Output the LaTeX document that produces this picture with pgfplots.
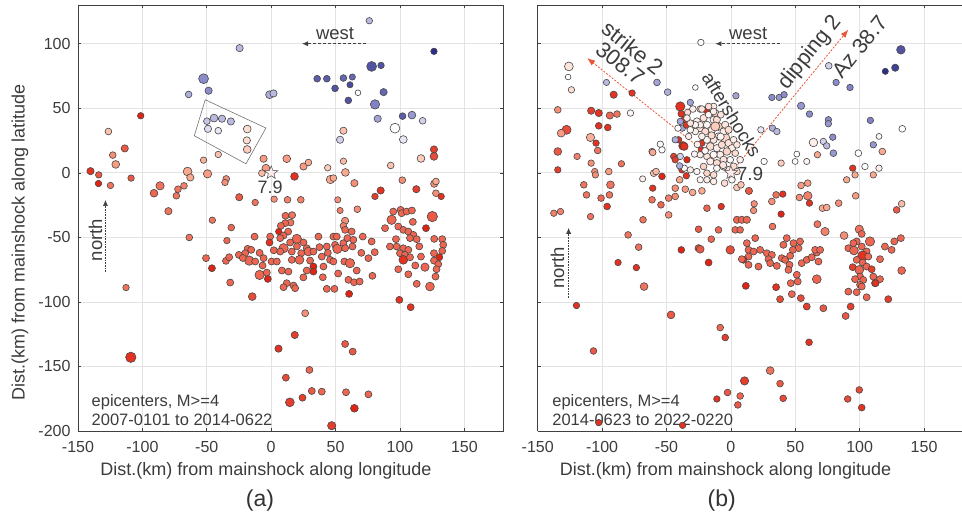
\documentclass[border=0pt]{standalone}
\usepackage{pgfplots}
\pgfplotsset{compat=1.18}
\usepackage{pgfplotstable}
\usepackage{fontspec}
\setmainfont{Liberation Sans}
\usetikzlibrary{arrows.meta}
\definecolor{txt}{RGB}{60,60,60}
\definecolor{arr}{RGB}{235,85,55}

\pgfdeclareplotmark{fivestar}{%
  \pgfpathmoveto{\pgfqpointpolar{90}{\pgfplotmarksize}}%
  \pgfpathlineto{\pgfqpointpolar{126}{0.42\pgfplotmarksize}}%
  \pgfpathlineto{\pgfqpointpolar{162}{\pgfplotmarksize}}%
  \pgfpathlineto{\pgfqpointpolar{198}{0.42\pgfplotmarksize}}%
  \pgfpathlineto{\pgfqpointpolar{234}{\pgfplotmarksize}}%
  \pgfpathlineto{\pgfqpointpolar{270}{0.42\pgfplotmarksize}}%
  \pgfpathlineto{\pgfqpointpolar{306}{\pgfplotmarksize}}%
  \pgfpathlineto{\pgfqpointpolar{342}{0.42\pgfplotmarksize}}%
  \pgfpathlineto{\pgfqpointpolar{18}{\pgfplotmarksize}}%
  \pgfpathlineto{\pgfqpointpolar{54}{0.42\pgfplotmarksize}}%
  \pgfpathclose\pgfusepathqfillstroke}

\pgfplotsset{
  panel/.style={
    scale only axis, width=425pt, height=426pt,
    xmin=-150, xmax=180, ymin=-200, ymax=130,
    clip=false,
    xtick={-150,-100,...,150}, ytick={-200,-150,...,100},
    grid=major, major grid style={draw=black!11, line width=0.7pt},
    axis line style={draw=black!75, line width=0.8pt},
    tick align=inside, major tick length=3pt,
    tick style={draw=black!75, line width=0.6pt},
    tick label style={font=\fontsize{16}{18}\selectfont, text=txt},
    xticklabel style={yshift=-7pt},
    /pgf/number format/assume math mode=true,
    colormap={rb}{rgb255=(45,45,140) rgb255=(140,140,205) rgb255=(255,255,255) rgb255=(250,168,142) rgb255=(225,35,20)},
    point meta min=-1, point meta max=1,
    xlabel={Dist.(km) from mainshock along longitude},
    xlabel style={at={(axis description cs:0.442,-0.094)}, anchor=center, font=\fontsize{18}{20}\selectfont, text=txt},
  },
  quake/.style={scatter, only marks, mark=*, scatter src=explicit,
    scatter/use mapped color={draw=black!72, fill=mapped color},
    visualization depends on={1.3*\thisrow{s} \as \msize},
    scatter/@pre marker code/.append style={/tikz/mark size=\msize},
    mark options={line width=0.6pt}},
}

\pgfplotstableread{
x y c s
76.2 117.8 -0.3 2.5
-24.5 96.6 -0.3 2.8
126.4 94.1 -1 2.5
78 82.4 -0.8 3.8
85.3 83.2 -0.8 2.5
-52.5 72.9 -0.5 3.8
-48.6 63.6 -0.5 2.8
-64.1 60.7 -0.35 2.6
-1.3 60.5 -0.35 3
1.8 61.5 -0.3 2.8
35.7 72.9 -0.75 2.6
43.2 72.9 -0.75 2.6
56.1 73.4 -0.7 2.6
63 74.2 -0.7 2.4
49.6 65.4 -0.8 2.6
61.2 68.2 -0.85 2.4
59.9 56.1 -0.8 2.6
67.4 62 0 2.2
87.3 62.5 -0.7 2.8
80.6 53 -0.55 3.6
82.7 41.9 -0.4 2.8
102 43.9 -0.75 2.6
109.3 44.7 -0.45 3
117.6 40.3 -0.2 2.6
96.1 34.6 0 3.8
102.6 25.8 -0.1 3
116.3 11.1 0.3 3
92.8 5.7 0.35 2.6
126.4 18.1 0.9 2.8
126.4 12.7 0.85 3
-101.3 44.2 1 2.5
-126.4 32 0.35 2.6
-113.7 18.9 0.8 2.8
-123 13.7 0.6 2.6
-120.7 6.5 0.55 3
-140.3 1.3 0.95 2.8
-133.9 -1.6 0.8 2.5
-134.1 -8.3 1 2.5
-124.8 -9.8 0.7 2.5
-108.8 -4.1 0.8 2.5
-49.9 40 -0.25 2.6
-44.4 42.4 -0.3 3
-38.2 41.9 -0.3 2.8
-31.3 39.8 -0.3 2.8
-49.1 34.1 -0.15 2.8
-41.1 32.6 -0.1 2.6
-18.6 33.9 0.2 3
-18.9 25.1 0.2 2.8
-18.6 18.1 0.3 3
-41.1 14.2 0.35 2.5
-52.5 9.8 0.45 2.5
-5.9 10.9 0.55 2.8
12.1 10.9 0.55 3
-4.1 3.6 0.55 3
-7.2 -0.3 0.4 2.6
25.1 4.9 0.55 2.8
28.9 8 0.5 2.6
18.1 -2.8 0.95 3
43.9 3.9 0.3 2.5
56.1 9 0.4 2.5
57.6 0.3 0.5 3
46 -5.2 0.5 3.2
48.3 -4.1 0.5 2.6
64.6 -8 0.6 2.8
56.1 32.6 0.35 2.8
53.5 25.6 -0.2 2.8
-64.9 1 0.5 3.4
-62.8 -3.6 0.5 2.8
-49.4 -0.8 0.55 3.2
-34.9 -4.7 0.6 2.6
-35.9 -7.5 0.6 2.5
-67.7 -10.1 0.65 2.6
-72.4 -12.7 0.7 2.6
-73.6 -17.8 0.7 2.6
-86.3 -10.1 0.7 3.2
-91 -15.8 0.75 3
-79.8 -29.7 0.7 2.8
-24.8 -18.9 0.8 2.8
-12.4 -23 0.7 2.5
2.3 -20.4 0.6 2.5
12.7 -20.9 0.65 2.6
23 -20.9 0.65 2.6
51.7 -20.9 0.6 2.4
53.5 -29.2 0.65 2.4
66.9 -28.2 0.6 2.6
-45.7 -36.7 0.7 2.5
-31 -42.4 0.75 2.6
-34.4 -52.5 0.75 2.5
-63.6 -50.1 0.7 2.6
85 -13.7 0.95 2.8
80.6 -18.3 0.9 2.5
112.7 -12.7 0.9 2.8
101.8 -5.7 0.6 2.6
126.6 -8.5 0.6 2.8
127.9 -6.7 0.5 2.6
127.9 -15.8 0.6 2.6
132 -18.3 0.95 2.5
57.4 -37.2 0.6 2.8
56.1 -41.1 0.65 2.6
11.1 -33.3 0.75 2.7
16.3 -32.8 0.7 2.7
15 -38.5 0.7 2.7
10.9 -39 0.75 2.7
7.5 -41.1 0.75 2.7
5.9 -45.5 1 2.5
13.2 -45.5 0.75 2.7
9.6 -48.6 0.75 2.7
-0.8 -49.4 0.75 2.7
7 -50.6 0.75 2.7
-1.3 -54 0.95 2.7
-12.9 -49.4 0.75 2.7
19.9 -51.2 0.75 3.6
25.1 -54 0.75 2.7
14.7 -54 0.75 2.7
9.6 -58.4 0.75 3.6
7 -61 0.75 2.7
27.6 -58.4 0.75 2.7
28.9 -61 0.75 3.4
23.3 -62.3 0.75 2.7
32.8 -61 0.75 2.7
36.7 -49.4 0.75 2.7
37.5 -57.6 0.75 2.7
43.2 -57.1 0.75 2.7
48.3 -49.4 0.75 2.7
50.9 -49.4 0.75 2.7
49.6 -55.8 0.75 2.7
51.4 -58.9 0.75 3.6
56.1 -54.5 0.75 2.7
57.4 -58.4 0.75 2.7
59.2 -50.6 0.75 2.7
62.5 -45.5 0.75 2.7
57.4 -44.2 0.75 2.7
63.8 -51.9 0.75 2.7
63.1 -57.1 0.75 2.7
71.1 -49.4 0.75 2.7
78 -53.2 0.75 2.7
80.4 -61.5 0.75 2.7
75.5 -66.1 0.75 2.7
-18.3 -58.9 0.75 2.7
-15.5 -59.7 0.75 2.7
-20.2 -62.3 0.75 2.7
-17.1 -68 0.75 3.6
-12.4 -68.7 0.75 2.7
-5.9 -66.1 0.75 2.7
-6.7 -71.8 0.75 2.7
0.3 -68.7 0.75 2.7
4.4 -68.7 0.75 2.7
-9 -79.1 0.75 3.6
-2.6 -82.2 1 2.7
-3.4 -77.3 0.75 2.7
8.3 -75.7 0.75 2.7
13.4 -76.5 0.75 2.7
16 -67.4 0.75 2.7
16 -61 0.75 2.7
22 -67.4 0.75 3.4
30.2 -68 0.75 2.7
32.8 -72.6 1 2.7
32.8 -76.5 1 2.7
27.6 -75.7 0.75 2.7
39.3 -64.9 0.75 2.7
40.6 -72.6 0.75 2.7
40.1 -80.9 0.75 2.7
45.7 -67.4 0.75 2.7
48.3 -68.7 0.75 2.7
43.2 -89.9 0.75 2.7
49.1 -89.9 0.75 2.7
56.8 -68.7 0.75 2.7
61.2 -70 0.75 3.6
66.4 -75.7 0.75 2.7
60 -82.9 0.75 2.7
64.3 -84.8 0.75 2.7
68.7 -84.2 0.75 2.7
60.5 -93.8 1 2.7
78.6 -79.8 0.75 2.7
17.3 -87.3 0.75 2.7
12.1 -85.5 0.75 2.7
9.6 -88.6 0.75 2.7
18.6 -89.4 0.75 2.7
-14.7 -95.9 0.85 3
94.8 -30 0.75 2.7
100.5 -28.7 0.75 2.7
93.5 -36.4 0.75 3.6
101.3 -31.3 0.75 2.7
105.2 -30 0.75 2.7
109.3 -29.2 0.75 2.7
88.4 -42.9 0.75 2.7
98.7 -41.6 0.75 2.7
102.6 -44.2 0.75 2.7
106.5 -45.5 0.75 2.7
110.4 -48.1 0.75 2.7
107.8 -50.6 0.75 2.7
113 -51.4 0.75 2.7
120.2 -42.9 1 2.7
125.1 -33.9 0.8 4
126.6 -51.2 0.75 2.7
132.8 -51.4 0.75 2.7
133.6 -55.8 0.75 2.7
132.8 -60.5 0.75 2.7
130.5 -65.4 1 2.7
126.4 -62.3 0.75 2.7
126.4 -68 0.75 2.7
129.7 -70.8 0.75 2.7
128.4 -74.7 0.75 2.7
127.6 -80.4 0.75 2.7
123.3 -88.1 0.75 3.4
96.9 -51.4 0.75 2.7
97.4 -57.1 0.75 2.7
102.6 -58.4 0.75 2.7
106.5 -59.7 0.75 2.7
100 -62.3 0.75 2.7
103.9 -63.6 0.75 2.7
102.6 -67.4 0.95 3.4
107.8 -65.4 0.75 2.7
92.2 -57.1 0.75 2.7
98.7 -74.7 0.75 2.7
106.5 -78.6 0.75 2.7
111.9 -71.8 0.75 2.7
116.3 -64.9 0.75 2.7
119.4 -73.1 0.75 3.2
99.5 -98.4 0.95 2.7
108.3 -104.1 0.95 2.7
-50.6 -66.1 0.75 2.7
-46 -73.9 1 2.7
-35.1 -68.2 0.75 2.7
-32.6 -65.4 0.75 2.7
-25.1 -63.6 0.75 2.7
-31.8 -85 0.75 2.7
-112.7 -88.9 0.7 2.5
-109 -142.9 0.95 4
26.4 -108.8 0.6 2.7
18.3 -125.6 0.9 2.8
5.7 -136.2 0.95 2.8
57.4 -132.6 0.8 2.7
63.3 -138.5 0.8 2.7
29.7 -152.7 0.75 2.7
11.4 -158.7 0.85 2.7
31.5 -169 0.8 2.7
39.3 -169.5 0.75 2.7
58.1 -170 0.75 2.7
75.5 -171.6 0.75 2.7
24.3 -174.2 0.9 2.7
14.5 -177.8 0.9 3.4
64.6 -182.4 1 3
47 -195.9 0.9 3.2
-22 -66 0.75 2.7
2 -60 0.75 2.7
20 -57 0.75 2.7
44 -62 0.75 2.7
70 -62 0.75 2.7
52 -78 0.75 2.7
25 -81 0.75 2.7
-9 -62 0.75 2.7
115 -57 0.75 2.7
110 -38 0.75 2.7
113 -86 0.75 2.7
}\leftdata

\pgfplotstableread{
x y c s
-23.3 101 0 2.5
-125.8 82.4 0.15 3.4
-126.4 74.2 0 2.2
-123.8 64.3 0.2 2.5
-96.6 70 -0.3 2.4
-91 60.5 0.95 2.8
-76.7 61.8 0.95 2.5
-57.4 70 -0.4 2.6
-49.1 62.5 -0.35 2.6
-27.6 66.1 0 2.2
3.9 59.7 -0.4 2.5
31.8 58.4 -0.5 2.5
37.5 58.4 -0.45 2.5
41.3 60.5 -0.5 2.5
76 82.9 -0.2 2.6
81.7 70 -0.5 2.5
92.5 66.1 -0.55 2.5
119.9 78.6 -1 2.4
127.6 81.4 -0.9 2.8
132 95.3 -0.8 3.3
54.5 51.9 -0.45 2.8
61 45.5 -0.5 2.5
75.7 41.1 -0.5 2.5
75.7 38 -0.45 2.5
108.3 40.6 -0.55 2.5
133.1 34.1 0 2.6
23.3 33.3 -0.1 2.5
32.3 34.6 -0.35 2.5
35.7 32 -0.3 2.5
64.1 23.5 0.1 3.3
71.8 24.3 -0.2 2.5
74.4 20.9 -0.3 2.5
79.1 27.6 -0.5 2.5
79.6 15.2 -0.45 2.6
67.2 14 0.5 2.5
99 15.2 0 2.6
110.6 21.7 -0.45 2.5
115 28.2 0.05 2.3
117.6 16.5 0.5 2.6
51.2 14.5 0 2.3
49.9 8.8 0 2.3
58.9 8.8 0.05 2.4
39 7.5 0.3 2.5
25.8 8.8 0 2.5
94.6 3.6 0.95 2.5
104.1 4.9 0 2.5
115 3.6 0.1 2.5
96.4 -1.6 0.5 2.5
89.9 -5.4 0.5 2.5
110.6 -1.6 0.5 2.5
128.7 -28.7 0.8 2.6
132.6 -24 0.4 2.6
96.9 -17.8 0.55 2.6
83.7 -23.5 0.6 2.6
59.7 -17.8 0.65 3.3
53.2 -19.1 0.6 2.6
54.5 -9.8 0.55 2.6
59.7 -8 0.55 2.6
61 -23.5 0.95 2.5
71.1 -27.4 0.5 2.6
74.4 -26.9 0.5 2.6
35.1 -17.1 0.7 2.6
40.3 -16.5 0.95 2.5
31.8 -22.2 0.6 2.6
39 -32 1 2.5
32.3 -41.6 0.7 2.6
18.1 -24 0.6 2.5
17.6 -29.2 0.6 2.5
14 -14 0.8 2.8
4.7 -11.4 0.3 2.6
7.8 -9.3 0.35 2.6
0.8 -5.4 0.05 2.6
-4.9 -8 0.2 2.6
-13.4 -6.7 0.1 2.6
-22.5 -14 0.5 2.6
-29.7 -15.2 0.5 2.6
-35.4 -12.7 0.55 2.6
-39.8 -5.4 0.5 2.6
-43.2 -11.9 0.6 2.6
-43.2 -18.3 0.6 2.6
-48.3 -19.6 0.65 2.6
-53.5 -2.8 1 2.6
-59.9 -0.3 0.35 2.6
-58.1 1 0.4 2.6
-68.5 -4.7 0.1 2.4
-60.7 -11.9 0.95 2.5
-61.2 -20.9 0.7 2.6
-54.3 -24.8 0.75 2.6
-48.3 -32.6 0.6 2.6
-68.2 -36.4 0.7 2.6
-18.6 -27.4 0.75 2.6
-7.5 -26.1 0.95 2.5
-38.5 -59.7 1 2.6
-25.1 -58.4 0.8 2.8
-0.5 -59.7 0.85 3.3
-15.2 -51.4 0.75 2.6
-9.6 -44.2 0.75 2.6
-25.1 -43.7 0.8 2.6
-71.6 -57.6 0.7 2.6
-79.8 -48.1 0.7 2.6
4.7 -36.4 0.75 2.8
8.5 -36.4 0.75 2.8
12.4 -36.4 0.75 2.8
3.4 -44.2 0.75 2.6
7.2 -44.2 0.75 2.6
-94.3 -17.1 0.7 2.6
-93.5 -9.3 0.7 3
-100.8 -19.6 0.75 2.6
-96.1 -26.1 0.95 2.6
-109 -33.9 0.7 2.5
-114.2 -9.3 0.7 2.6
-112.1 -17.1 0.7 2.6
-108.5 7.5 0.6 2.5
-105.7 1 0.6 2.5
-105.2 -1.6 0.6 2.5
-94.8 1 0.55 2.6
-85 7 0.7 2.5
-119.4 12.7 0.65 2.5
-134.4 16.5 0.8 3
-134.4 2.3 0.9 2.5
-137.5 -31.3 0.65 2.5
-132.3 -30 0.65 2.5
-134.4 48.8 0.6 2.6
-127.6 33.3 0.85 3.5
-131.8 30.7 0.55 3
-108.5 48.1 0.9 2.8
-102.6 46.3 0.95 2.8
-94 44.4 0.75 2.8
-88.4 45.5 0.7 2.6
-102.6 36.4 0.95 2.6
-95.6 35.1 0.95 2.6
-109 27.4 0.45 3.2
-104.7 23 0.95 2.5
-103.4 17.3 0.7 2.6
-78 46.3 0.05 2.5
-87.6 -69.5 0.95 2.5
-73.4 -73.4 0.95 2.5
-67.4 -88.1 0.7 3
-119.9 -102.8 0.95 2.5
-46.5 -110.1 0.8 3
-8.3 -119.9 0.75 2.6
-4.4 -127.6 0.9 2.6
-106.7 -138 0.8 2.6
60.7 -131.3 0.95 2.6
30.5 -153.2 0.7 3
10.6 -161.2 0.9 3.2
38.2 -163.3 0.8 2.6
-2.6 -170.2 0.8 2.6
7.2 -172.9 0.75 2.6
-10.9 -175.2 0.95 2.5
40.6 -174.7 0.85 2.6
5.4 -179.8 0.8 2.6
99.7 -168.2 0.85 2.6
90.7 -175.2 0.85 2.6
101.6 -181.9 0.95 2.6
-102.6 -193.5 0.95 2.5
-37.5 -195.6 0.95 2.5
67.2 -39.8 0.7 2.7
73.1 -45.5 0.65 3.2
87.9 -48.6 0.6 3
99.7 -43.7 0.7 3.2
101.6 -47.3 0.75 2.7
108 -53.2 0.75 3.6
97.7 -53.2 0.75 2.7
95.1 -54.5 0.75 2.7
91.2 -58.4 0.75 2.7
95.6 -60.2 0.75 3.4
101.6 -57.1 0.75 2.7
105.4 -60.9 0.75 2.7
102.3 -64.3 0.95 3.8
106.7 -64.9 0.75 2.7
97.7 -67.4 0.75 2.7
102.3 -69.5 0.75 2.7
94.6 -73.1 0.9 2.7
99.7 -75.2 0.75 3.4
105.4 -72.6 0.75 2.7
109.3 -74.7 0.9 2.7
110.6 -80.4 0.75 2.7
115.8 -82.4 0.75 2.7
111.9 -85.5 0.75 2.7
100.3 -80.4 0.75 2.7
102.8 -83 0.75 2.7
96.4 -82.4 0.75 2.7
100.3 -86.8 0.75 2.7
101.6 -88.1 0.75 2.7
91.2 -92 0.75 2.7
97.7 -92.5 0.75 2.7
105.4 -96.4 0.75 2.7
119.6 -57.1 0.75 2.7
124.8 -59.7 0.75 2.7
126.9 -53.2 0.75 2.7
132 -50.6 0.75 2.7
115.8 -66.9 0.75 2.7
132.6 -75.7 0.75 3
122.2 -97.9 0.9 2.7
89.1 -110.9 0.8 2.7
-17.3 -69.5 1 2.7
12.4 -54.5 0.75 2.7
18.9 -50.6 0.75 2.7
13.7 -59.7 0.75 2.7
17.6 -61 0.75 2.7
22.7 -59.7 0.75 2.7
13.7 -64.9 0.75 2.7
9.8 -67.4 1 2.7
13.7 -71.3 0.75 2.7
8.5 -66.9 0.75 2.7
21.4 -72.6 0.75 2.7
27.9 -62.3 0.75 2.7
31.8 -63.6 0.75 2.7
29.2 -66.9 0.75 2.7
30.5 -70 0.75 2.7
35.7 -72.1 0.75 2.7
39.5 -66.1 0.75 2.7
42.1 -67.4 0.75 2.7
46 -64.3 0.75 2.7
40.8 -55.8 0.75 2.7
43.4 -50.6 0.75 2.7
48.6 -54.5 0.75 2.7
53.7 -53.2 0.75 2.7
52.5 -58.4 0.75 2.7
48.1 -59.7 0.75 2.7
55 -70 0.75 2.7
58.9 -67.4 0.75 2.7
62.8 -65.4 0.75 2.7
68 -68.7 0.75 2.7
66.7 -61.8 0.75 2.7
65.4 -59.7 0.75 2.7
69.3 -59.7 0.75 2.7
45.5 -71.3 0.75 2.7
44.7 -75.2 0.75 2.7
51.2 -79 0.75 2.7
51.9 -84.2 0.75 2.7
46.5 -85.5 0.75 2.7
66.7 -82.4 0.75 3.4
35.1 -88.6 0.95 2.7
47.3 -94 0.75 2.7
54.3 -97.1 0.85 2.7
38.2 -97.9 0.85 2.7
58.9 -103.6 0.9 2.7
71.8 -104.9 0.8 2.7
93 -103.6 0.9 2.7
11.6 -87.6 1 2.7
-23.8 -59.2 0.8 3
112.4 -85.5 0.95 2.7
-39.3 51.4 0.95 3.6
-38.5 45.7 0.95 2.6
-31.5 54.5 -0.4 2.5
-29.5 49.4 0.1 2.6
-23.8 49.4 0.15 2.6
-19.1 48.3 1 2.5
-33.6 46.8 0.2 2.5
-35.4 41.6 -0.3 2.5
-36.2 41.1 0.95 2.6
-39.3 39.8 -0.4 2.5
-37.7 34.6 -0.4 2.5
-34.6 37 0.95 2.5
-41.1 34.6 0 2.5
-40.6 25.6 0.95 2.5
-37.2 20.9 1 3.3
-32.8 28.2 0.1 2.5
-22.5 23 0.95 2.5
-23 17.8 0.95 2.5
-28.2 14.5 0.05 2.5
-23.8 14 0.1 2.5
-44.4 12.7 0.9 2.5
-43.2 10.1 0.9 2.5
-34.1 10.1 1 2.5
-61.2 16.5 0.3 2.5
-53.5 17.8 0 2.5
-54.8 22.2 0.05 2.5
-38 2.3 0.95 2.5
-34.6 -2.3 0.95 2.5
-31.5 2.3 0.1 2.5
-26.4 1 0.05 2.5
-21.2 4.9 0.25 2.6
-18.6 -0.3 0.25 2.6
-13.4 -1.6 0.2 2.6
-60.7 15.8 0.5 2.6
-39.3 12.7 -0.2 2.5
-36.2 3.6 0 2.5
-39.8 5.4 -0.35 2.5
-23.8 -5.4 0.05 2.5
-18.6 -5.4 0.1 2.5
-43.2 25.6 -0.35 2.5
-36.2 20.4 0.95 3
-26.4 39.8 0.1 2.8
-21.2 42.4 0.15 2.8
-17.3 45 0.05 2.6
-12.1 46.3 0.2 2.8
-13.4 41.1 0.1 2.8
-18.6 37.2 0.05 2.8
-23.8 34.6 0.15 2.8
-27.6 32 0.1 2.6
-31.5 33.3 0.05 2.6
-19.9 32 0.2 2.8
-14.7 33.3 0.1 2.8
-9.6 35.9 0.25 3
-4.4 37.2 0.15 2.8
-4.4 26.9 0.25 3.6
-9.6 28.2 0.1 2.8
-13.4 25.6 0.15 2.8
-18.6 25.6 0.05 2.8
-22.5 28.2 0.1 2.6
-16 20.4 0.2 3
-10.9 19.1 0.1 2.8
-7 21.7 0.2 2.8
-1.8 23 0.15 2.8
0.8 19.1 0.1 2.8
3.4 15.2 0.2 2.6
-3.1 16.5 0.25 3
-8.3 14 0.1 2.8
-13.4 14 0.05 2.8
-18.6 12.7 0.15 2.6
-16 8.8 0.1 2.8
-10.9 7.5 0.2 2.8
-5.7 10.1 0.15 2.8
-0.5 10.1 0.05 2.6
2.1 4.9 0.2 2.8
-1.8 2.3 0.15 2.6
-5.7 4.9 0.1 2.8
-10.9 3.6 0.05 2.6
7.2 10.1 0.1 2.6
4.7 1 0.2 2.6
-23.8 37.2 0.1 2.6
-27.6 37.2 0.05 2.6
-31.5 38.5 0.15 2.6
-34.1 42.4 0.1 2.6
-10.9 41.1 0.2 2.8
-7.8 45 0.15 2.6
-13.4 51.4 0.1 2.6
-17.3 51.4 0.2 2.6
-5.7 32 0.1 2.8
-1.8 33.3 0.2 2.8
2.1 25.6 0.1 2.6
4.7 21.7 0.15 2.6
-12.1 35.9 0.3 3.5
-22.5 49.4 0.15 2.6
-13.4 47.5 0.1 2.6
-8 28 0.05 2.8
-6 6 0.15 2.8
-20 17 0.05 2.6
-26 22 0.1 2.6
-15 29 0.2 2.8
}\rightdata

\begin{document}
\begin{tikzpicture}
\useasboundingbox (0pt,0pt) rectangle (962pt,516pt);

% ---------------- panel (a) ----------------
\begin{axis}[panel, at={(78pt,85pt)}, anchor=south west,
  ylabel={Dist.(km) from mainshock along latitude},
  ylabel style={at={(axis description cs:-0.1365,0.4425)}, anchor=center, font=\fontsize{18}{20}\selectfont, text=txt},
  yticklabel style={xshift=-4pt},
]
\addplot[quake] table[x=x, y=y, meta=c] {\leftdata};
\addplot[only marks, mark=fivestar, mark size=7pt, mark options={draw=black!70, fill=red!8, line width=0.5pt}] coordinates {(0,0)};
\draw[black!55, line width=0.6pt] (axis cs:-51.2,56.6) -- (axis cs:-4.1,34.7) -- (axis cs:-19.6,7) -- (axis cs:-59.7,28.7) -- cycle;
\draw[black!75, densely dashed, line width=0.6pt, -{Latex[length=6pt,width=5pt]}] (axis cs:74,100) -- (axis cs:24,100);
\node[font=\fontsize{18.5}{20}\selectfont, text=txt] at (axis cs:49.6,107.8) {west};
\draw[black!75, densely dotted, line width=0.6pt, -{Latex[length=6pt,width=5pt]}] (axis cs:-128.7,-76.7) -- (axis cs:-128.7,-21);
\node[rotate=90, font=\fontsize{18.5}{20}\selectfont, text=txt] at (axis cs:-136.4,-52) {north};
\node[font=\fontsize{18}{20}\selectfont, text=txt] at (axis cs:-0.8,-11.5) {7.9};
\node[anchor=west, align=left, font=\fontsize{16.5}{19.4}\selectfont, text=txt, inner sep=0pt] at (axis cs:-139.5,-184) {epicenters, M>=4\\2007-0101 to 2014-0622};
\node[font=\fontsize{23}{25}\selectfont, text=black!80] at (axis description cs:0.428,-0.164) {(a)};
\end{axis}

% ---------------- panel (b) ----------------
\begin{axis}[panel, at={(537.7pt,85pt)}, anchor=south west,
  axis x line*=box, axis y line*=left,
  yticklabels={},
]
\addplot[quake] table[x=x, y=y, meta=c] {\rightdata};
\addplot[only marks, mark=fivestar, mark size=7pt, mark options={draw=black!70, fill=red!8, line width=0.5pt}] coordinates {(0,0)};
\draw[arr, dash pattern=on 2pt off 1.5pt, line width=0.8pt, -{Latex[length=8pt,width=6pt]}] (axis cs:0,0) -- (axis cs:-111.6,88.9);
\draw[arr, dash pattern=on 2pt off 1.5pt, line width=0.8pt, -{Latex[length=8pt,width=6pt]}] (axis cs:0,0) -- (axis cs:91.2,110.9);
\draw[black!75, densely dashed, line width=0.6pt, -{Latex[length=6pt,width=5pt]}] (axis cs:38,100) -- (axis cs:-12,100);
\node[font=\fontsize{18.5}{20}\selectfont, text=txt] at (axis cs:13.4,107.8) {west};
\draw[black!75, densely dotted, line width=0.6pt, -{Latex[length=6pt,width=5pt]}] (axis cs:-126,-97) -- (axis cs:-126,-42.6);
\node[rotate=90, font=\fontsize{18.5}{20}\selectfont, text=txt] at (axis cs:-134.6,-73.6) {north};
\node[rotate=-38.7, align=center, font=\fontsize{22}{19.5}\selectfont, text=txt] at (axis cs:-81,90.9) {strike 2\\308.7};
\node[rotate=51.3, align=left, font=\fontsize{21.5}{37}\selectfont, text=txt] at (axis cs:78.4,93.8) {dipping 2\\\hspace*{43pt}Az 38.7};
\node[rotate=-58.5, font=\fontsize{18.7}{20}\selectfont, text=txt] at (axis cs:0.8,45) {aftershocks};
\node[anchor=west, font=\fontsize{19}{20}\selectfont, text=txt, inner sep=0pt] at (axis cs:4.5,-1) {7.9};
\node[anchor=west, align=left, font=\fontsize{16.5}{19.4}\selectfont, text=txt, inner sep=0pt] at (axis cs:-138.8,-184) {epicenters, M>=4\\2014-0623 to 2022-0220};
\node[font=\fontsize{23}{25}\selectfont, text=black!80] at (axis description cs:0.433,-0.164) {(b)};
\end{axis}
\end{tikzpicture}
\end{document}
